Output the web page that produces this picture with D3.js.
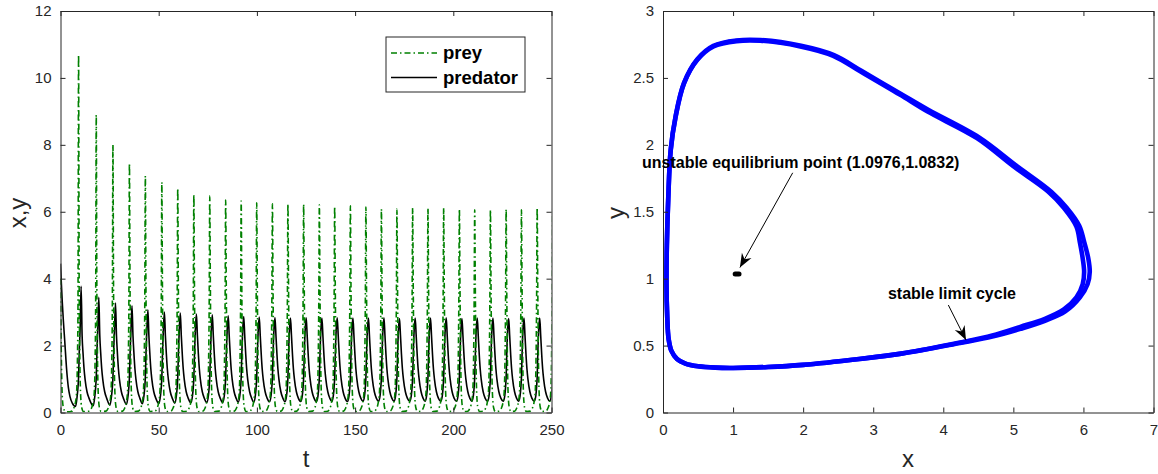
<!DOCTYPE html>
<html>
<head>
<meta charset="utf-8">
<script src="https://cdn.jsdelivr.net/npm/d3@7"></script>
<style>
	body { margin: 0; background: #fff; }
	text { font-family: "Liberation Sans", Arial, Helvetica, sans-serif; }
	.axis text { font-size: 15px; fill: #262626; }
	.axis path, .axis line { stroke: #262626; stroke-width: 1; }
</style>
</head>
<body>
<svg id="chart" width="1158" height="474"></svg>
<script>
// ---- time series (left panel) ----
// start of the run
const initT      = [0, 0.4, 0.9, 1.45, 2.2, 3.1, 4.0, 4.8, 6.0];
const preyInitV  = [4.0, 1.8, 0.5, 0.15, 0.05, 0.02, 0.02, 0.02, 0.03];
const predInitV  = [4.45, 3.9, 3.3, 2.75, 2.1, 1.3, 0.75, 0.48, 0.28];

// one value per oscillation
const preyPeakT = [9.2, 18.2, 26.7, 35.1, 43.2, 51.6, 59.7, 67.9, 76.0, 84.1, 92.0, 99.9, 107.9, 115.8, 123.8, 131.8,
	139.6, 147.6, 155.5, 163.4, 171.3, 179.3, 187.1, 195.1, 203.1, 210.9, 218.9, 226.9, 234.7, 242.7, 250.6];
const preyPeakV = [10.69, 8.89, 8.0, 7.45, 7.07, 6.88, 6.70, 6.52, 6.47, 6.35, 6.32, 6.27, 6.24, 6.23, 6.23, 6.21,
	6.16, 6.18, 6.14, 6.08, 6.08, 6.11, 6.11, 6.11, 6.08, 6.06, 6.06, 6.08, 6.06, 6.11, 6.1];
const predPeakV = [3.77, 3.44, 3.27, 3.19, 3.07, 3.0, 2.97, 2.94, 2.92, 2.89, 2.87, 2.85, 2.84, 2.82, 2.83, 2.82,
	2.83, 2.82, 2.82, 2.83, 2.81, 2.82, 2.82, 2.83, 2.81, 2.82, 2.82, 2.81, 2.82, 2.82, 2.82];
const predTroughV = [0.18, 0.2, 0.22, 0.24, 0.26, 0.27, 0.28, 0.29, 0.3, 0.3, 0.31, 0.31, 0.32, 0.32, 0.33, 0.33,
	0.33, 0.33, 0.34, 0.34, 0.34, 0.34, 0.34, 0.34, 0.34, 0.34, 0.34, 0.34, 0.34, 0.34, 0.34];

// shape of one pulse, times relative to the prey peak
const preyRiseDt = [-3.5, -2.5, -1.6, -1.0, -0.6, -0.3];
const preyRiseV  = [0.04, 0.12, 0.3, 0.6, 1.5, 3.2];
const preyFallDt = [0.3, 0.6, 1.0, 1.6, 2.5];
const preyFallV  = [3.8, 1.8, 0.6, 0.15, 0.03];
const predTroughDt = -1.5;
const predRiseDt = [-0.7, -0.3, 0, 0.4, 0.8];
const predRiseV  = [0.5, 0.75, 1.05, 1.9, 2.5];
const predPeakDt = 1.3;
const predFallDt = [1.8, 2.3, 2.8, 3.3, 4.3, 5.3];
const predFallV  = [2.3, 1.75, 1.3, 1.0, 0.62, 0.43];

const tTicks = [0, 50, 100, 150, 200, 250];
const xyTicks = [0, 2, 4, 6, 8, 10, 12];
const seriesNames = ["prey", "predator"];

// ---- phase plane (right panel) ----
const cycleX = [0.06, 0.08, 0.12, 0.2, 0.32, 0.5, 0.75, 1.0, 1.5, 2.0, 2.8, 3.4, 4.24, 4.7, 5.1, 5.45, 5.72, 5.9, 5.99, 6.01,
	5.99, 5.95, 5.9, 5.72, 5.5, 5.0, 4.48, 3.77, 3.38, 2.82, 2.43, 1.96, 1.39, 1.05, 0.72, 0.49, 0.3, 0.18, 0.11, 0.075, 0.055, 0.05];
const cycleY = [0.72, 0.55, 0.46, 0.4, 0.365, 0.345, 0.335, 0.333, 0.34, 0.356, 0.40, 0.44, 0.523, 0.575, 0.64, 0.70, 0.77, 0.86, 0.96, 1.05,
	1.15, 1.27, 1.39, 1.53, 1.65, 1.84, 2.05, 2.25, 2.375, 2.547, 2.665, 2.735, 2.778, 2.775, 2.735, 2.635, 2.46, 2.21, 1.96, 1.6, 1.25, 0.95];
const firstOrbitX = [0.06, 0.08, 0.12, 0.2, 0.32, 0.5, 0.75, 1.0, 1.5, 2.0, 2.8, 3.4, 4.24, 4.7, 5.1, 5.45, 5.74, 5.95, 6.06, 6.09,
	6.07, 6.01, 5.94, 5.76, 5.54, 5.04, 4.51, 3.79, 3.39, 2.83, 2.44, 1.97, 1.39, 1.05, 0.72, 0.49, 0.3, 0.18, 0.11, 0.075, 0.055, 0.05];
const firstOrbitY = [0.72, 0.55, 0.46, 0.4, 0.365, 0.345, 0.335, 0.333, 0.34, 0.356, 0.40, 0.44, 0.52, 0.567, 0.625, 0.685, 0.755, 0.86, 0.96, 1.05,
	1.15, 1.275, 1.395, 1.53, 1.65, 1.845, 2.055, 2.26, 2.382, 2.553, 2.67, 2.74, 2.783, 2.78, 2.74, 2.64, 2.463, 2.213, 1.963, 1.6, 1.25, 0.95];
const equilibriumX = [1.03, 1.085];
const equilibriumY = [1.034, 1.034];
const phaseXTicks = [0, 1, 2, 3, 4, 5, 6, 7];
const phaseYTicks = [0, 0.5, 1, 1.5, 2, 2.5, 3];

const noteText = ["unstable equilibrium point (1.0976,1.0832)", "stable limit cycle"];
const noteX = [-0.3, 3.21];
const noteY = [1.83, 0.85];
const arrowFromX = [1.851, 4.072];
const arrowFromY = [1.791, 0.803];
const arrowToX = [1.0976, 4.324];
const arrowToY = [1.0832, 0.541];

let svg = d3.select("#chart");
svg.append("rect").attr("width", 1158).attr("height", 474).attr("fill", "#fff");

let defs = svg.append("defs");
defs.append("clipPath").attr("id", "clipLeft")
	.append("rect").attr("x", 60.5).attr("y", 11).attr("width", 491).attr("height", 401.5);
defs.append("marker")
	.attr("id", "head")
	.attr("viewBox", "-16 -8 18 16")
	.attr("markerUnits", "userSpaceOnUse")
	.attr("markerWidth", 18)
	.attr("markerHeight", 16)
	.attr("refX", 0)
	.attr("refY", 0)
	.attr("orient", "auto")
	.append("path")
	.attr("d", "M0,0 L-14,-5.5 L-9.5,0 L-14,5.5 Z")
	.attr("fill", "#000");

function buildSeries(){
	let prey = [], pred = [];
	for (let i = 0; i < initT.length; i++){
		prey.push([initT[i], preyInitV[i]]);
		pred.push([initT[i], predInitV[i]]);
	}
	for (let i = 0; i < preyPeakT.length; i++){
		let t0 = preyPeakT[i];
		for (let j = 0; j < preyRiseDt.length; j++)
			prey.push([t0 + preyRiseDt[j], preyRiseV[j]]);
		prey.push([t0, preyPeakV[i]]);
		for (let j = 0; j < preyFallDt.length; j++)
			prey.push([t0 + preyFallDt[j], preyFallV[j]]);

		pred.push([t0 + predTroughDt, predTroughV[i]]);
		for (let j = 0; j < predRiseDt.length; j++)
			pred.push([t0 + predRiseDt[j], predRiseV[j]]);
		pred.push([t0 + predPeakDt, predPeakV[i]]);
		for (let j = 0; j < predFallDt.length; j++)
			pred.push([t0 + predFallDt[j], predFallV[j]]);
	}
	prey.sort((a, b) => a[0] - b[0]);
	pred.sort((a, b) => a[0] - b[0]);
	return [prey, pred];
}

function drawBox(g, sx, sy, xTicks, yTicks){
	let [x0, x1] = sx.range();
	let [y0, y1] = sy.range();
	g.append("g").attr("class", "axis")
		.attr("transform", "translate(0," + y0 + ")")
		.call(d3.axisBottom(sx).tickValues(xTicks).tickSize(-5).tickSizeOuter(0).tickPadding(12).tickFormat(d => d));
	g.append("g").attr("class", "axis")
		.attr("transform", "translate(0," + y1 + ")")
		.call(d3.axisTop(sx).tickValues(xTicks).tickSize(-5).tickSizeOuter(0).tickFormat(""));
	g.append("g").attr("class", "axis")
		.attr("transform", "translate(" + x0 + ",0)")
		.call(d3.axisLeft(sy).tickValues(yTicks).tickSize(-5).tickSizeOuter(0).tickPadding(9).tickFormat(d => d));
	g.append("g").attr("class", "axis")
		.attr("transform", "translate(" + x1 + ",0)")
		.call(d3.axisRight(sy).tickValues(yTicks).tickSize(-5).tickSizeOuter(0).tickFormat(""));
}

// ---- left panel ----
let [preyData, predData] = buildSeries();

let tScale = d3.scaleLinear()
				.domain([0, 250])
				.range([60.5, 551.5]);
let vScale = d3.scaleLinear()
				.domain([0, 12])
				.range([412.5, 11]);

let left = svg.append("g");
let lineGen = d3.line()
				.x(d => tScale(d[0]))
				.y(d => vScale(d[1]))
				.curve(d3.curveMonotoneX);

let plots = left.append("g").attr("clip-path", "url(#clipLeft)");
plots.append("path")
	.attr("d", lineGen(predData))
	.attr("fill", "none")
	.attr("stroke", "#000")
	.attr("stroke-width", 1.6);
plots.append("path")
	.attr("d", lineGen(preyData))
	.attr("fill", "none")
	.attr("stroke", "#008000")
	.attr("stroke-width", 1.6)
	.attr("stroke-dasharray", "6,3,1.5,3");

drawBox(left, tScale, vScale, tTicks, xyTicks);

left.append("text")
	.attr("x", 306).attr("y", 467)
	.attr("text-anchor", "middle")
	.attr("font-size", 24)
	.attr("fill", "#262626")
	.text("t");
left.append("text")
	.attr("transform", "translate(26,213) rotate(-90)")
	.attr("text-anchor", "middle")
	.attr("font-size", 24)
	.attr("fill", "#262626")
	.text("x,y");

// legend
let legend = left.append("g");
legend.append("rect")
	.attr("x", 386).attr("y", 37)
	.attr("width", 139).attr("height", 55)
	.attr("fill", "#fff")
	.attr("stroke", "#262626")
	.attr("stroke-width", 1);
let legendStyle = [
	{color: "#008000", dash: "6,3,1.5,3"},
	{color: "#000", dash: null}
];
seriesNames.forEach((name, i) => {
	let yy = 53 + i * 24.5;
	legend.append("line")
		.attr("x1", 391).attr("x2", 437)
		.attr("y1", yy).attr("y2", yy)
		.attr("stroke", legendStyle[i].color)
		.attr("stroke-width", 1.6)
		.attr("stroke-dasharray", legendStyle[i].dash);
	legend.append("text")
		.attr("x", 443).attr("y", yy + 6)
		.attr("font-size", 18.5)
		.attr("font-weight", "bold")
		.attr("fill", "#000")
		.text(name);
});

// ---- right panel ----
let pxScale = d3.scaleLinear()
				.domain([0, 7])
				.range([663, 1153.5]);
let pyScale = d3.scaleLinear()
				.domain([0, 3])
				.range([412.5, 11]);

let right = svg.append("g");
let loopGen = d3.line()
				.x(d => pxScale(d[0]))
				.y(d => pyScale(d[1]))
				.curve(d3.curveCatmullRomClosed);

let orbits = [d3.zip(firstOrbitX, firstOrbitY), d3.zip(cycleX, cycleY)];
right.selectAll("path.orbit")
	.data(orbits)
	.join("path")
	.attr("class", "orbit")
	.attr("d", d => loopGen(d))
	.attr("fill", "none")
	.attr("stroke", "#0000ff")
	.attr("stroke-width", 4.6)
	.attr("stroke-linejoin", "round");

right.append("path")
	.attr("d", d3.line().x(d => pxScale(d[0])).y(d => pyScale(d[1]))(d3.zip(equilibriumX, equilibriumY)))
	.attr("stroke", "#000")
	.attr("stroke-width", 5)
	.attr("stroke-linecap", "round");

drawBox(right, pxScale, pyScale, phaseXTicks, phaseYTicks);

right.append("text")
	.attr("x", 908).attr("y", 467)
	.attr("text-anchor", "middle")
	.attr("font-size", 24)
	.attr("fill", "#262626")
	.text("x");
right.append("text")
	.attr("transform", "translate(624,213) rotate(-90)")
	.attr("text-anchor", "middle")
	.attr("font-size", 24)
	.attr("fill", "#262626")
	.text("y");

noteText.forEach((s, i) => {
	right.append("line")
		.attr("x1", pxScale(arrowFromX[i])).attr("y1", pyScale(arrowFromY[i]))
		.attr("x2", pxScale(arrowToX[i])).attr("y2", pyScale(arrowToY[i]))
		.attr("stroke", "#000")
		.attr("stroke-width", 1)
		.attr("marker-end", "url(#head)");
	right.append("text")
		.attr("x", pxScale(noteX[i])).attr("y", pyScale(noteY[i]))
		.attr("font-size", 16)
		.attr("font-weight", "bold")
		.attr("fill", "#000")
		.text(s);
});
</script>
</body>
</html>
